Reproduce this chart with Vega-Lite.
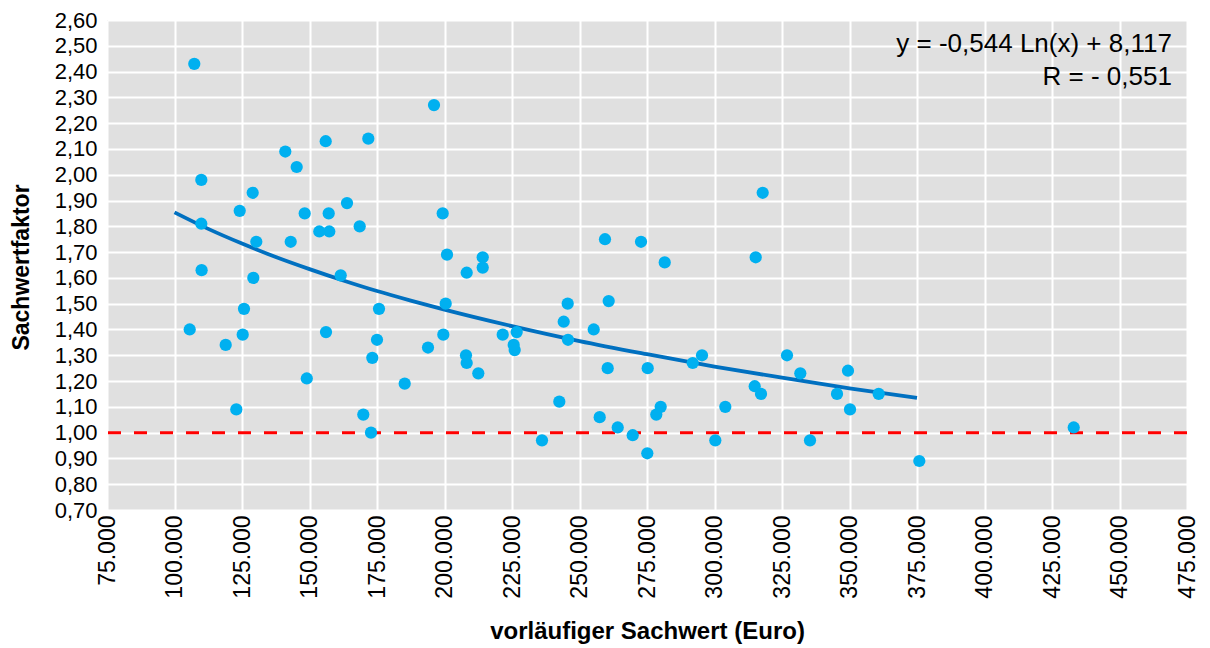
{
  "$schema": "https://vega.github.io/schema/vega-lite/v6.json",
  "width": 1080,
  "height": 490,
  "autosize": {"type": "none"},
  "padding": {"left": 107, "top": 20, "right": 23, "bottom": 138},
  "background": "white",
  "config": {
    "locale": {"number": {"decimal": ",", "thousands": ".", "grouping": [3], "currency": ["", " €"]}},
    "view": {"fill": "#e0e0e0", "stroke": null},
    "font": "Liberation Sans",
    "axis": {"domain": false, "ticks": false, "grid": true, "gridColor": "#ffffff", "gridWidth": 2, "gridOpacity": 1, "labelColor": "#000000", "titleColor": "#000000", "labelFont": "Liberation Sans", "titleFont": "Liberation Sans"}
  },
  "datasets": {
    "points": [
      {"wert": 107330, "faktor": 2.43}, {"wert": 156000, "faktor": 2.13}, {"wert": 171780, "faktor": 2.14},
      {"wert": 141040, "faktor": 2.09}, {"wert": 145260, "faktor": 2.03}, {"wert": 109930, "faktor": 1.98},
      {"wert": 128960, "faktor": 1.93}, {"wert": 163890, "faktor": 1.89}, {"wert": 124150, "faktor": 1.86},
      {"wert": 148220, "faktor": 1.85}, {"wert": 157110, "faktor": 1.85}, {"wert": 168590, "faktor": 1.80},
      {"wert": 153630, "faktor": 1.78}, {"wert": 157330, "faktor": 1.78}, {"wert": 109930, "faktor": 1.81},
      {"wert": 130300, "faktor": 1.74}, {"wert": 143040, "faktor": 1.74}, {"wert": 110040, "faktor": 1.63},
      {"wert": 129190, "faktor": 1.60}, {"wert": 161560, "faktor": 1.61}, {"wert": 175740, "faktor": 1.48},
      {"wert": 125740, "faktor": 1.48}, {"wert": 105630, "faktor": 1.40}, {"wert": 125260, "faktor": 1.38},
      {"wert": 118960, "faktor": 1.34}, {"wert": 156110, "faktor": 1.39}, {"wert": 175000, "faktor": 1.36},
      {"wert": 173260, "faktor": 1.29}, {"wert": 149000, "faktor": 1.21}, {"wert": 122890, "faktor": 1.09},
      {"wert": 169930, "faktor": 1.07}, {"wert": 172780, "faktor": 1.00}, {"wert": 196110, "faktor": 2.27},
      {"wert": 199330, "faktor": 1.85}, {"wert": 200930, "faktor": 1.69}, {"wert": 214150, "faktor": 1.68},
      {"wert": 214150, "faktor": 1.64}, {"wert": 208220, "faktor": 1.62}, {"wert": 259440, "faktor": 1.75},
      {"wert": 272780, "faktor": 1.74}, {"wert": 281560, "faktor": 1.66}, {"wert": 200440, "faktor": 1.50},
      {"wert": 199560, "faktor": 1.38}, {"wert": 193890, "faktor": 1.33}, {"wert": 185260, "faktor": 1.19},
      {"wert": 207960, "faktor": 1.30}, {"wert": 208220, "faktor": 1.27}, {"wert": 212520, "faktor": 1.23},
      {"wert": 221560, "faktor": 1.38}, {"wert": 226740, "faktor": 1.39}, {"wert": 225630, "faktor": 1.34},
      {"wert": 226000, "faktor": 1.32}, {"wert": 236110, "faktor": 0.97}, {"wert": 242520, "faktor": 1.12},
      {"wert": 245630, "faktor": 1.50}, {"wert": 244150, "faktor": 1.43}, {"wert": 245740, "faktor": 1.36},
      {"wert": 255260, "faktor": 1.40}, {"wert": 260810, "faktor": 1.51}, {"wert": 260440, "faktor": 1.25},
      {"wert": 257480, "faktor": 1.06}, {"wert": 264150, "faktor": 1.02}, {"wert": 269700, "faktor": 0.99},
      {"wert": 275110, "faktor": 0.92}, {"wert": 275260, "faktor": 1.25}, {"wert": 278440, "faktor": 1.07},
      {"wert": 280070, "faktor": 1.10}, {"wert": 291930, "faktor": 1.27}, {"wert": 295370, "faktor": 1.30},
      {"wert": 317850, "faktor": 1.93}, {"wert": 315260, "faktor": 1.68}, {"wert": 304000, "faktor": 1.10},
      {"wert": 300300, "faktor": 0.97}, {"wert": 314890, "faktor": 1.18}, {"wert": 317220, "faktor": 1.15},
      {"wert": 326850, "faktor": 1.30}, {"wert": 331780, "faktor": 1.23}, {"wert": 335370, "faktor": 0.97},
      {"wert": 345370, "faktor": 1.15}, {"wert": 349440, "faktor": 1.24}, {"wert": 350190, "faktor": 1.09},
      {"wert": 360810, "faktor": 1.15}, {"wert": 375850, "faktor": 0.89}, {"wert": 433040, "faktor": 1.02}
    ],
    "trend": [
      {"wert": 100000, "faktor": 1.854}, {"wert": 112500, "faktor": 1.790}, {"wert": 125000, "faktor": 1.733},
      {"wert": 137500, "faktor": 1.681}, {"wert": 150000, "faktor": 1.634}, {"wert": 162500, "faktor": 1.590},
      {"wert": 175000, "faktor": 1.549}, {"wert": 187500, "faktor": 1.512}, {"wert": 200000, "faktor": 1.477},
      {"wert": 225000, "faktor": 1.413}, {"wert": 250000, "faktor": 1.355}, {"wert": 275000, "faktor": 1.304},
      {"wert": 300000, "faktor": 1.256}, {"wert": 325000, "faktor": 1.213}, {"wert": 350000, "faktor": 1.172},
      {"wert": 375000, "faktor": 1.135}
    ],
    "ref": [{"faktor": 1.0}],
    "notes": [
      {"wert": 469400, "faktor": 2.476, "label": "y = -0,544 Ln(x) + 8,117"},
      {"wert": 469400, "faktor": 2.348, "label": "R = - 0,551"}
    ]
  },
  "encoding": {
    "x": {
      "field": "wert", "type": "quantitative",
      "scale": {"domain": [75000, 475000], "nice": false, "zero": false},
      "axis": {
        "title": "vorläufiger Sachwert (Euro)",
        "values": [75000, 100000, 125000, 150000, 175000, 200000, 225000, 250000, 275000, 300000, 325000, 350000, 375000, 400000, 425000, 450000, 475000],
        "format": ",.0f", "labelAngle": 270, "labelFontSize": 23, "labelPadding": 5,
        "titleFontSize": 24, "titleFontWeight": "bold", "titleY": 128, "titleBaseline": "alphabetic"
      }
    },
    "y": {
      "field": "faktor", "type": "quantitative",
      "scale": {"domain": [0.7, 2.6], "nice": false, "zero": false},
      "axis": {
        "title": "Sachwertfaktor",
        "values": [0.7, 0.8, 0.9, 1.0, 1.1, 1.2, 1.3, 1.4, 1.5, 1.6, 1.7, 1.8, 1.9, 2.0, 2.1, 2.2, 2.3, 2.4, 2.5, 2.6],
        "format": ".2f", "labelFontSize": 22, "labelPadding": 10,
        "titleFontSize": 23, "titleFontWeight": "bold", "titleX": -79, "titleY": 247, "titleBaseline": "alphabetic", "titleAngle": 270
      }
    }
  },
  "layer": [
    {
      "data": {"name": "ref"},
      "mark": {"type": "rule", "color": "#ff0000", "strokeWidth": 3, "strokeDash": [13, 13]},
      "encoding": {"x": null}
    },
    {
      "data": {"name": "trend"},
      "mark": {"type": "line", "color": "#0070c0", "strokeWidth": 3.8, "interpolate": "monotone"}
    },
    {
      "data": {"name": "points"},
      "mark": {"type": "circle", "color": "#00b0f0", "opacity": 1, "size": 150}
    },
    {
      "data": {"name": "notes"},
      "mark": {"type": "text", "align": "right", "baseline": "alphabetic", "fontSize": 26, "color": "#000000", "font": "Liberation Sans"},
      "encoding": {"text": {"field": "label", "type": "nominal"}}
    }
  ]
}
